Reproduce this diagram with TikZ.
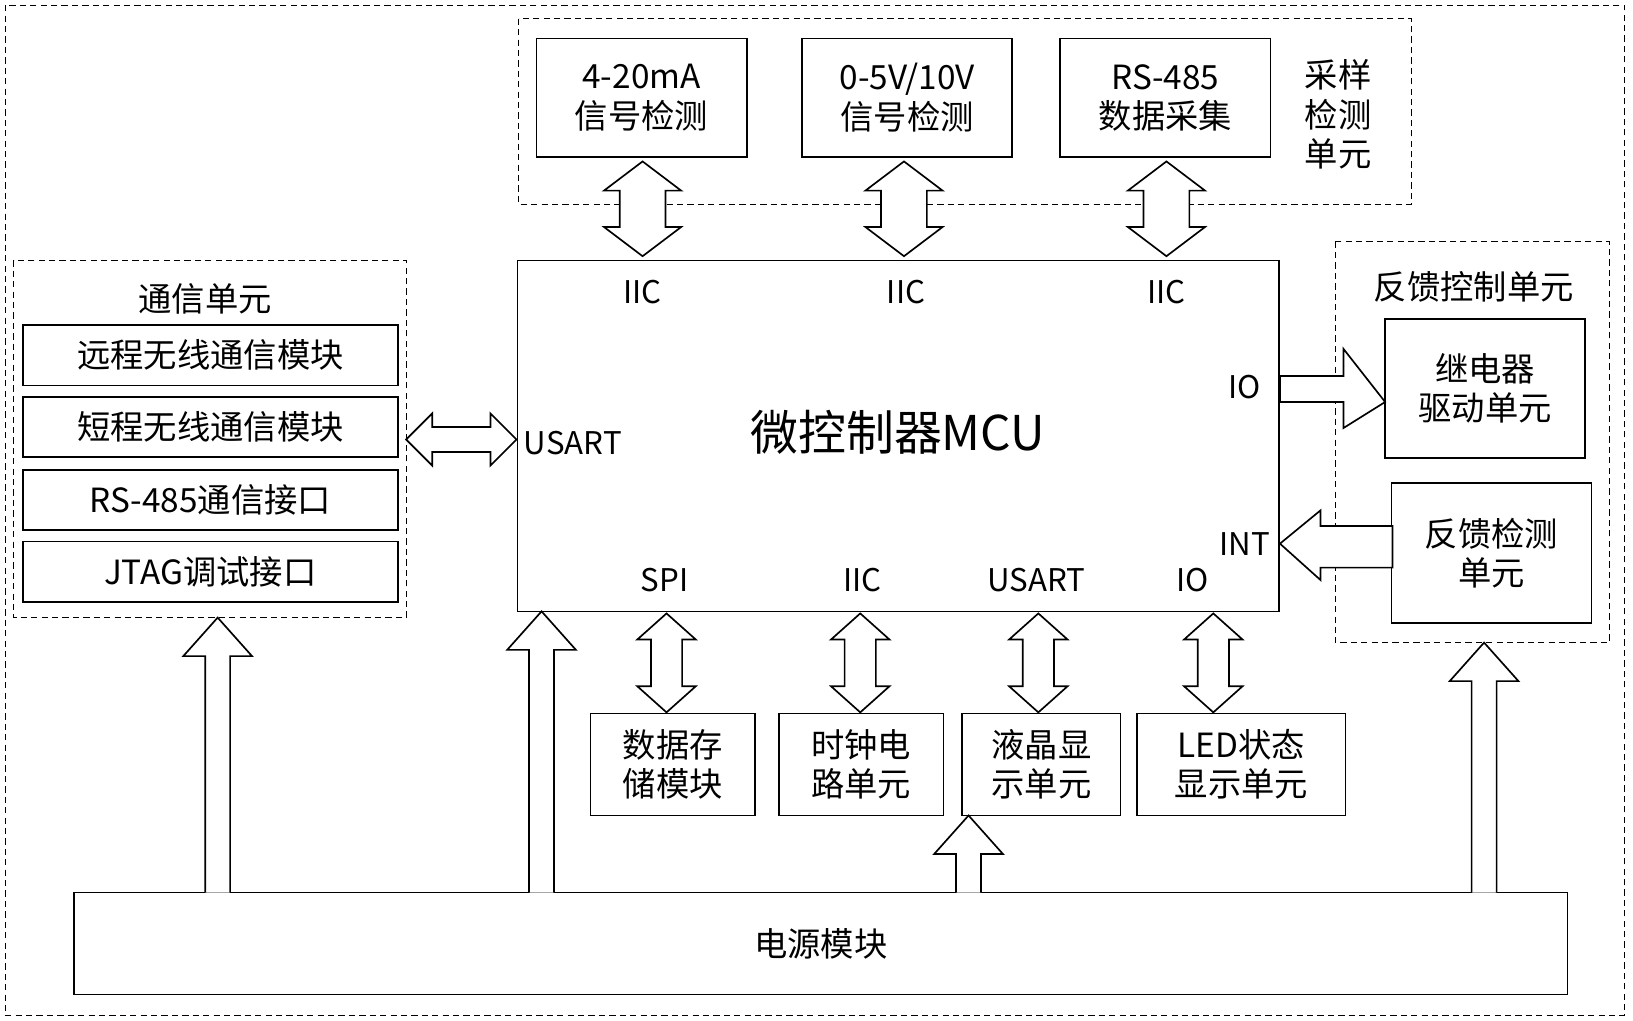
\documentclass[tikz,border=0pt]{standalone}
\usepackage{fontspec}
\setmainfont{Noto Sans CJK SC}
\usetikzlibrary{positioning}
% vertical double block arrow: x, y1, y2, head half, shaft half, head length
\newcommand{\vdarrow}[6]{\draw[blk] (#1,#2)--++(#4,#6)--++(-#4+#5,0)--(#1+#5,#3-#6)--++(#4-#5,0)--(#1,#3)--++(-#4,-#6)--++(#4-#5,0)--(#1-#5,#2+#6)--++(-#4+#5,0)--cycle;}
% horizontal double block arrow: y, x1, x2, head half, shaft half, head length
\newcommand{\hdarrow}[6]{\draw[blk] (#2,#1)--++(#6,#4)--++(0,-#4+#5)--(#3-#6,#1+#5)--++(0,#4-#5)--(#3,#1)--++(-#6,-#4)--++(0,#4-#5)--(#2+#6,#1-#5)--++(0,-#4+#5)--cycle;}
% single up block arrow: x, ybottom, ytip
\newcommand{\uparr}[3]{\draw[blk] (#1-12,#2)--(#1-12,#3+37)--(#1-33,#3+37)--(#1,#3)--(#1+33,#3+37)--(#1+12,#3+37)--(#1+12,#2);}
\tikzset{
  box/.style={draw, thick, align=center, font=\fontsize{16}{19}\selectfont, inner sep=0pt},
  grp/.style={draw, densely dashed},
  lbl/.style={font=\fontsize{15}{18}\selectfont},
  blk/.style={draw, thick, fill=white}
}
\begin{document}
\begin{tikzpicture}[x=0.5pt,y=-0.5pt]
  \useasboundingbox (0,0) rectangle (1568,980);
  % frames
  \draw[grp] (5,5) rectangle (1560,975);
  \draw[grp] (498,18) rectangle (1355,196);
  \draw[grp] (13,250) rectangle (390,593);
  \draw[grp] (1282,232) rectangle (1545,617);

  % sampling unit
  \node[box, minimum width=101pt, minimum height=57pt] (ma) at (616,94) {4-20mA\\信号检测};
  \node[box, minimum width=101pt, minimum height=57pt] (volt) at (871,94) {0-5V/10V\\信号检测};
  \node[box, minimum width=101pt, minimum height=57pt] (rs) at (1119,94) {RS-485\\数据采集};
  \node[box, draw=none] (samp) at (1285,110) {采样\\检测\\单元};

  % mcu
  \draw[thick] (497,250) rectangle (1228,587);
  \node[font=\fontsize{23}{26}\selectfont] (mcu) at (862,415) {微控制器MCU};
  \node[lbl] (iic1) at (617,280) {IIC};
  \node[lbl] (iic2) at (870,280) {IIC};
  \node[lbl] (iic3) at (1120,280) {IIC};
  \node[lbl] (usart) at (550,425) {USART};
  \node[lbl] (io1) at (1195,372) {IO};
  \node[lbl] (int) at (1195,522) {INT};
  \node[lbl] (spi) at (638,557) {SPI};
  \node[lbl] (iic4) at (828,557) {IIC};
  \node[lbl] (usart2) at (995,557) {USART};
  \node[lbl] (io2) at (1145,557) {IO};

  % communication unit
  \node[box, draw=none] (comm) at (197,287) {通信单元};
  \node[box, minimum width=180pt, minimum height=29pt] (c1) at (202,341) {远程无线通信模块};
  \node[box, minimum width=180pt, minimum height=29pt] (c2) at (202,410) {短程无线通信模块};
  \node[box, minimum width=180pt, minimum height=29pt] (c3) at (202,480) {RS-485通信接口};
  \node[box, minimum width=180pt, minimum height=29pt] (c4) at (202,549) {JTAG调试接口};

  % feedback unit
  \node[box, draw=none] (fb) at (1415,275) {反馈控制单元};
  \node[box, minimum width=96pt, minimum height=67pt] (relay) at (1426,373) {继电器\\驱动单元};
  \node[box, minimum width=96pt, minimum height=67pt] (fbd) at (1432,531) {反馈检测\\单元};

  % peripherals
  \node[box, minimum width=79pt, minimum height=49pt] (mem) at (646,734) {数据存\\储模块};
  \node[box, minimum width=79pt, minimum height=49pt] (clk) at (827,734) {时钟电\\路单元};
  \node[box, minimum width=76pt, minimum height=49pt] (lcd) at (1000,734) {液晶显\\示单元};
  \node[box, minimum width=100pt, minimum height=49pt] (led) at (1192,734) {LED状态\\显示单元};

  % power
  \node[box, minimum width=717pt, minimum height=49pt] (pwr) at (788,906) {电源模块};

  % block arrows
  \vdarrow{617}{155}{246}{37}{22}{28}
  \vdarrow{868}{155}{246}{37}{22}{28}
  \vdarrow{1120}{155}{246}{37}{22}{28}
  \vdarrow{640}{589}{684}{28}{15}{25}
  \vdarrow{826}{589}{684}{28}{15}{25}
  \vdarrow{997}{589}{684}{28}{15}{25}
  \vdarrow{1165}{589}{684}{28}{15}{25}
  \hdarrow{422}{390}{496}{25}{12}{25}
  \draw[blk] (1229,361)--(1290,361)--(1290,335)--(1330,386)--(1290,411)--(1290,386)--(1229,386)--cycle;
  \draw[blk] (1337,505)--(1268,505)--(1268,490)--(1229,522)--(1268,557)--(1268,545)--(1337,545)--cycle;
  \uparr{209}{857}{593}
  \uparr{520}{857}{587}
  \uparr{930}{857}{783}
  \uparr{1425}{857}{617}
\end{tikzpicture}
\end{document}
